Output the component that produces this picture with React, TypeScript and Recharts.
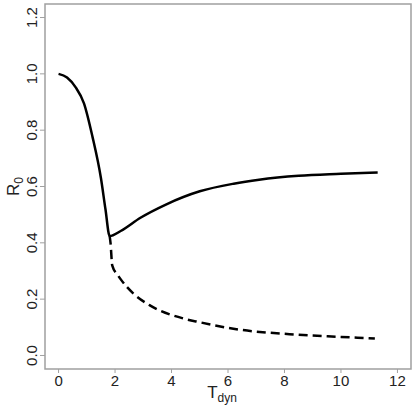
import { LineChart, Line, XAxis, YAxis, ReferenceArea } from 'recharts';

// T_dyn values and R0 values
const solidX = [0, 0.3, 0.6, 0.9, 1.2, 1.5, 1.66, 1.81, 2.2, 2.9, 3.8, 5.0, 6.2, 7.1, 8.5, 10.0, 11.3];
const solidY = [1.0, 0.987, 0.953, 0.895, 0.777, 0.63, 0.52, 0.424, 0.442, 0.489, 0.536, 0.583, 0.61, 0.624, 0.638, 0.645, 0.65];

const dashedX = [1.81, 1.84, 1.9, 2.1, 2.19, 2.66, 3.25, 4.43, 5.0, 6.19, 8.43, 10.0, 11.2];
const dashedY = [0.424, 0.4, 0.32, 0.285, 0.272, 0.219, 0.177, 0.131, 0.118, 0.095, 0.074, 0.066, 0.06];

const xTicks = [0, 2, 4, 6, 8, 10, 12];
const yTicks = [0, 0.2, 0.4, 0.6, 0.8, 1.0, 1.2];

const solid = solidX.map((x, i) => ({ x, y: solidY[i] }));
const dashed = dashedX.map((x, i) => ({ x, y: dashedY[i] }));

const font = '"Liberation Sans", Arial, sans-serif';
const gray = '#a0a0a0';

const YTick = ({ y, payload }) => (
    <text
        x={37}
        y={y}
        transform={`rotate(-90, 37, ${y})`}
        textAnchor="middle"
        fontSize={15}
        fontFamily={font}
        fill="#222"
    >
        {payload.value.toFixed(1)}
    </text>
);

const XLabel = ({ viewBox }) => {
    const cx = viewBox.x + viewBox.width / 2;
    return (
        <text x={cx - 6} y={398} fontSize={17} fontFamily={font} fill="#222" textAnchor="middle">
            T<tspan fontSize={12} dy={4}>dyn</tspan>
        </text>
    );
};

const YLabel = ({ viewBox }) => {
    const cy = viewBox.y + viewBox.height / 2;
    return (
        <text x={19} y={cy} transform={`rotate(-90, 19, ${cy})`} fontSize={17} fontFamily={font} fill="#222" textAnchor="middle">
            R<tspan fontSize={12} dy={4}>0</tspan>
        </text>
    );
};

export default function App() {
    return (
        <div style={{ position: 'absolute', left: 0, top: 0, background: '#fff' }}>
            <LineChart width={415} height={415} margin={{ top: 4, right: 4, left: 0, bottom: 0 }}>
                <XAxis
                    type="number"
                    dataKey="x"
                    domain={[-0.48, 12.48]}
                    ticks={xTicks}
                    allowDataOverflow
                    height={46}
                    axisLine={false}
                    tickLine={{ stroke: gray }}
                    tickSize={4}
                    tick={{ fontSize: 15, fontFamily: font, fill: '#222' }}
                    label={{ content: XLabel }}
                />
                <YAxis
                    type="number"
                    dataKey="y"
                    domain={[-0.048, 1.248]}
                    ticks={yTicks}
                    allowDataOverflow
                    width={45}
                    axisLine={false}
                    tickLine={{ stroke: gray }}
                    tickSize={5}
                    tick={YTick}
                    label={{ content: YLabel }}
                />
                <ReferenceArea x1={-0.48} x2={12.48} y1={-0.048} y2={1.248} fill="none" stroke={gray} strokeWidth={1.5} />
                <Line data={solid} dataKey="y" type="monotone" stroke="#000" strokeWidth={2.5} dot={false} isAnimationActive={false} />
                <Line data={dashed} dataKey="y" type="monotone" stroke="#000" strokeWidth={2.5} strokeDasharray="9 5" dot={false} isAnimationActive={false} />
            </LineChart>
        </div>
    );
}
